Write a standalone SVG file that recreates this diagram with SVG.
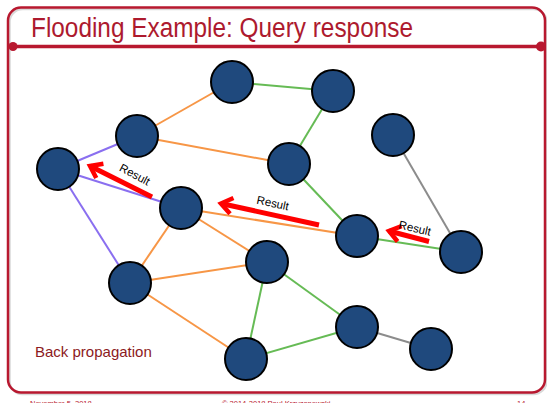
<svg xmlns="http://www.w3.org/2000/svg" width="547" height="403" viewBox="0 0 547 403">
  <style>
    .frame { fill: none; stroke: #b8182f; stroke-width: 2.5; }
    .shadow { fill: none; stroke: #d9d9d9; stroke-width: 2.5; }
    .title { font-family: "Liberation Sans", Arial, sans-serif; font-size: 27px; fill: #ad1a2e; }
    .footer { font-family: "Liberation Sans", Arial, sans-serif; font-size: 7.5px; fill: #b8182f; }
    .note { font-family: "Liberation Sans", Arial, sans-serif; font-size: 15px; fill: #8c1a22; }
    .node circle { fill: #1f497d; stroke: #000; stroke-width: 2; }
    .edge { stroke-width: 2; fill: none; }
    .orange { stroke: #f79646; }
    .green { stroke: #66bb55; }
    .purple { stroke: #8a6ff0; }
    .gray { stroke: #8c8c8c; }
    .result { stroke: #ff0000; stroke-width: 5; fill: none; }
    .label { font-family: "Liberation Sans", Arial, sans-serif; font-size: 11.5px; fill: #000; text-anchor: middle; }
  </style>
  <defs>
    <marker id="openArrow" markerUnits="userSpaceOnUse" viewBox="-16 -12 20 24" markerWidth="20" markerHeight="24" refX="0" refY="0" orient="auto">
      <path d="M -11 -8 L 0 0 L -11 8" fill="none" stroke="#ff0000" stroke-width="4.5" stroke-linejoin="miter"/>
    </marker>
  </defs>

  <rect width="547" height="403" fill="#ffffff"/>

  <!-- slide frame -->
  <rect class="shadow" x="9.5" y="9" width="537" height="385" rx="13"/>
  <rect class="frame" x="8" y="7.5" width="537" height="385" rx="13"/>
  <line x1="13" y1="46.5" x2="541" y2="46.5" stroke="#b8182f" stroke-width="3.5"/>
  <circle cx="13" cy="46.5" r="4.5" fill="#b8182f"/>
  <circle cx="541" cy="46.5" r="5" fill="#b8182f"/>

  <text class="title" x="31" y="37" textLength="382" lengthAdjust="spacingAndGlyphs">Flooding Example: Query response</text>

  <!-- connectors -->
  <g id="connectors">
    <line class="edge green" x1="232" y1="82" x2="333" y2="91"/>
    <line class="edge orange" x1="232" y1="82" x2="137" y2="136"/>
    <line class="edge orange" x1="137" y1="136" x2="289" y2="164"/>
    <line class="edge green" x1="333" y1="91" x2="289" y2="164"/>
    <line class="edge purple" x1="137" y1="136" x2="58" y2="169"/>
    <line class="edge purple" x1="58" y1="169" x2="181" y2="208"/>
    <line class="edge purple" x1="58" y1="169" x2="130" y2="283"/>
    <line class="edge green" x1="289" y1="164" x2="357" y2="236"/>
    <line class="edge orange" x1="181" y1="208" x2="357" y2="236"/>
    <line class="edge orange" x1="181" y1="208" x2="130" y2="283"/>
    <line class="edge orange" x1="181" y1="208" x2="267" y2="262"/>
    <line class="edge orange" x1="130" y1="283" x2="267" y2="262"/>
    <line class="edge orange" x1="130" y1="283" x2="246" y2="359"/>
    <line class="edge green" x1="267" y1="262" x2="246" y2="359"/>
    <line class="edge green" x1="267" y1="262" x2="357" y2="327"/>
    <line class="edge green" x1="246" y1="359" x2="357" y2="327"/>
    <line class="edge gray" x1="357" y1="327" x2="431" y2="349"/>
    <line class="edge gray" x1="393" y1="135" x2="461" y2="252"/>
    <line class="edge green" x1="357" y1="236" x2="461" y2="252"/>
  </g>

  <!-- peers -->
  <g id="n1" class="node"><circle cx="232" cy="82" r="21"/></g>
  <g id="n2" class="node"><circle cx="333" cy="91" r="21"/></g>
  <g id="n3" class="node"><circle cx="137" cy="136" r="21"/></g>
  <g id="n4" class="node"><circle cx="58" cy="169" r="21"/></g>
  <g id="n5" class="node"><circle cx="289" cy="164" r="21"/></g>
  <g id="n6" class="node"><circle cx="393" cy="135" r="21"/></g>
  <g id="n7" class="node"><circle cx="181" cy="208" r="21"/></g>
  <g id="n8" class="node"><circle cx="357" cy="236" r="21"/></g>
  <g id="n9" class="node"><circle cx="461" cy="252" r="21"/></g>
  <g id="n10" class="node"><circle cx="267" cy="262" r="21"/></g>
  <g id="n11" class="node"><circle cx="130" cy="283" r="21"/></g>
  <g id="n12" class="node"><circle cx="357" cy="327" r="21"/></g>
  <g id="n13" class="node"><circle cx="431" cy="349" r="21"/></g>
  <g id="n14" class="node"><circle cx="246" cy="359" r="21"/></g>

  <!-- query results travelling back -->
  <g id="results">
    <line class="result" x1="152" y1="197" x2="90" y2="166" marker-end="url(#openArrow)"/>
    <text class="label" transform="translate(133,178) rotate(28)">Result</text>
    <line class="result" x1="319" y1="225" x2="221" y2="203.5" marker-end="url(#openArrow)"/>
    <text class="label" transform="translate(272,207) rotate(12)">Result</text>
    <line class="result" x1="429" y1="241.5" x2="389" y2="231" marker-end="url(#openArrow)"/>
    <text class="label" transform="translate(414,232) rotate(13)">Result</text>
  </g>

  <text class="note" x="35" y="357">Back propagation</text>

  <text class="footer" x="30" y="405.5">November 5, 2018</text>
  <text class="footer" x="222" y="405.5">© 2014-2018 Paul Krzyzanowski</text>
  <text class="footer" x="517" y="405.5">14</text>
</svg>
